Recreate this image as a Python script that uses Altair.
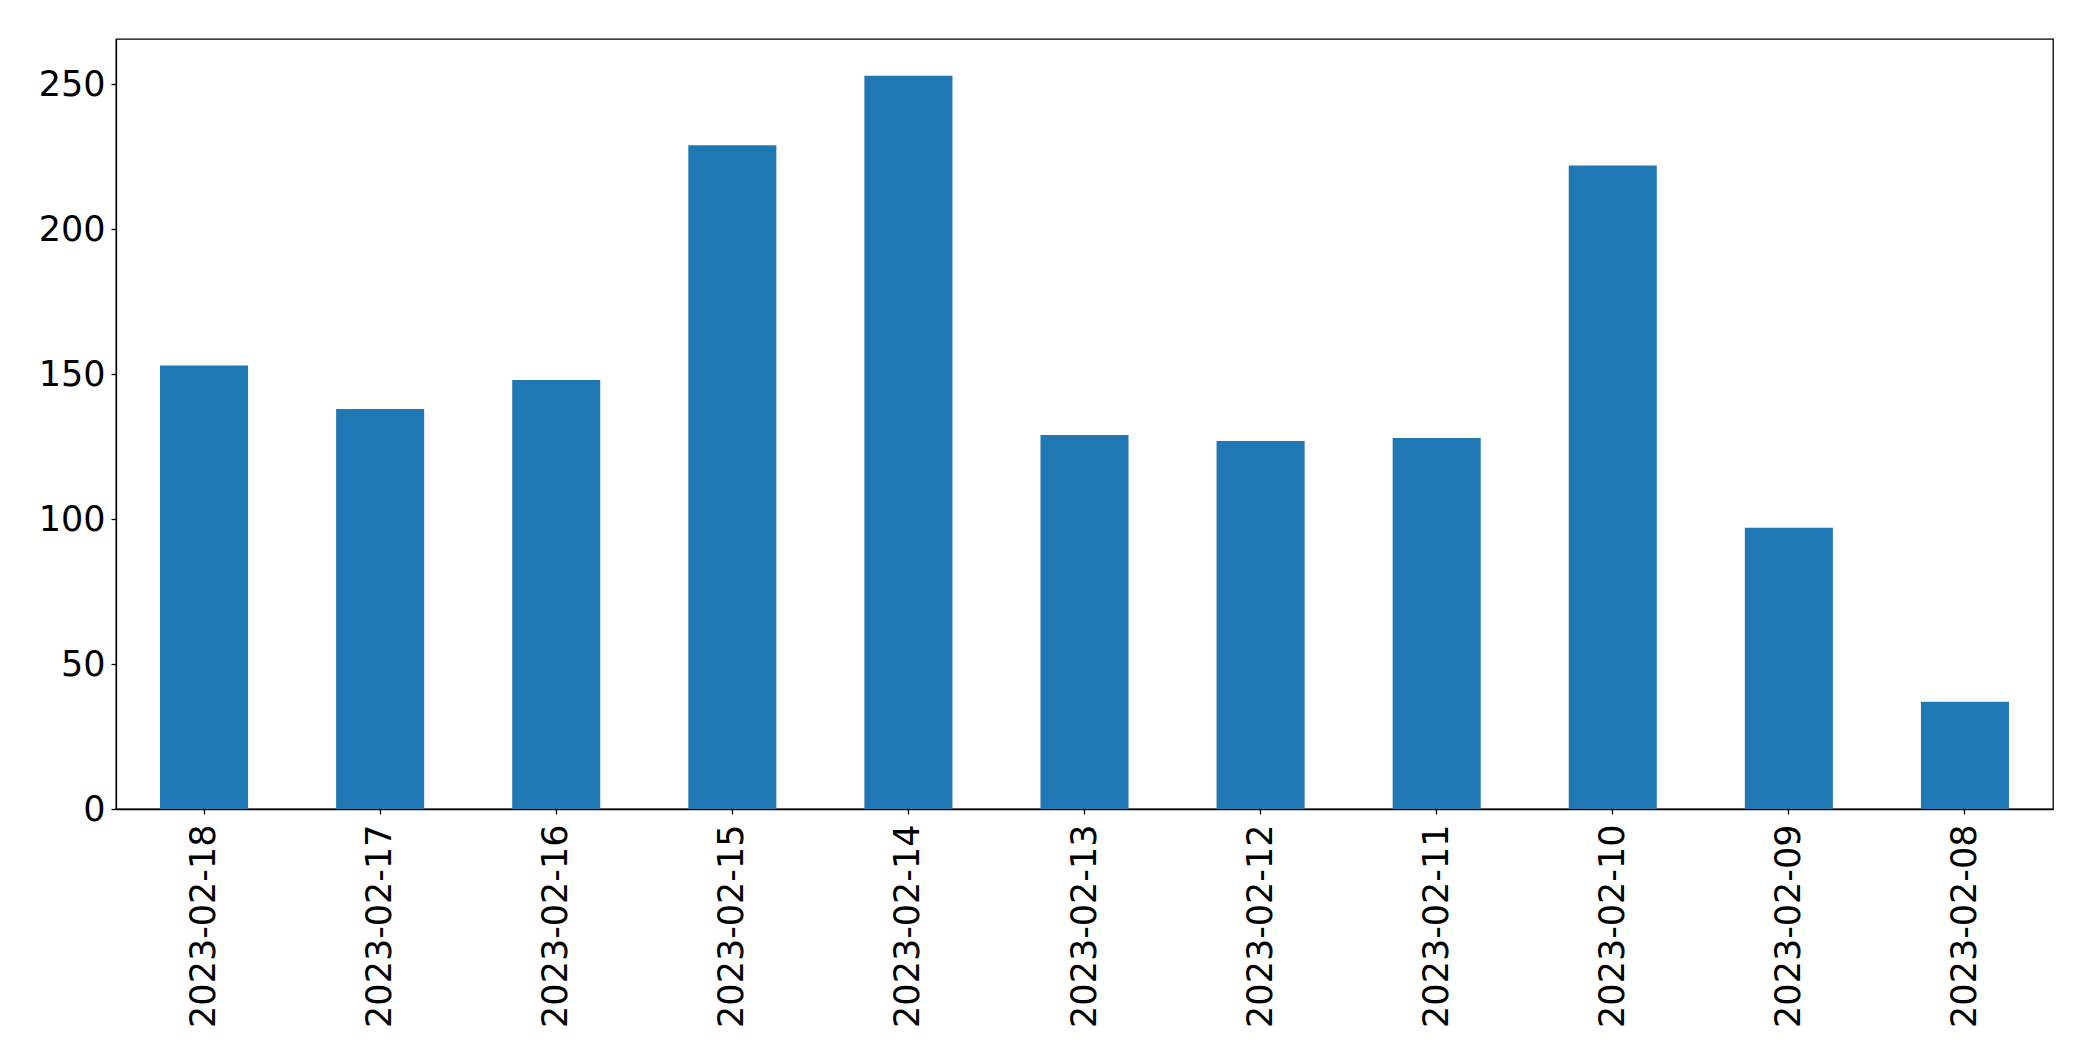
import altair as alt
import pandas as pd

dates = ["2023-02-18", "2023-02-17", "2023-02-16", "2023-02-15", "2023-02-14",
         "2023-02-13", "2023-02-12", "2023-02-11", "2023-02-10", "2023-02-09", "2023-02-08"]
counts = [153, 138, 148, 229, 253, 129, 127, 128, 222, 97, 37]
y_ticks = [0, 50, 100, 150, 200, 250]

df = pd.DataFrame({"date": dates, "count": counts})

chart = alt.Chart(df).mark_bar(color="#1f77b4").encode(
    x=alt.X("date:N", sort=None, title=None,
            scale=alt.Scale(paddingInner=0.5, paddingOuter=0.25),
            axis=alt.Axis(labelAngle=270, labelFontSize=35, labelFont="DejaVu Sans",
                          labelLimit=0, labelOverlap=False,
                          labelColor="black", domainColor="black", tickColor="black",
                          tickSize=5, labelPadding=10, domainWidth=1.3, tickWidth=1.3)),
    y=alt.Y("count:Q", title=None,
            scale=alt.Scale(domain=[0, 265.65], nice=False, zero=True),
            axis=alt.Axis(values=y_ticks, grid=False, labelFontSize=35, labelFont="DejaVu Sans",
                          labelColor="black", domainColor="black", tickColor="black",
                          tickSize=5, labelPadding=6, domainWidth=1.3, tickWidth=1.3)),
).properties(
    width=1937, height=770,
    background="white",
    autosize=alt.AutoSizeParams(type="none"),
    padding={"left": 108, "top": 31, "right": 30, "bottom": 240},
).configure_view(
    stroke="black", strokeWidth=1.3
)

chart.save("out.html", embed_options={"renderer": "svg", "actions": False})
